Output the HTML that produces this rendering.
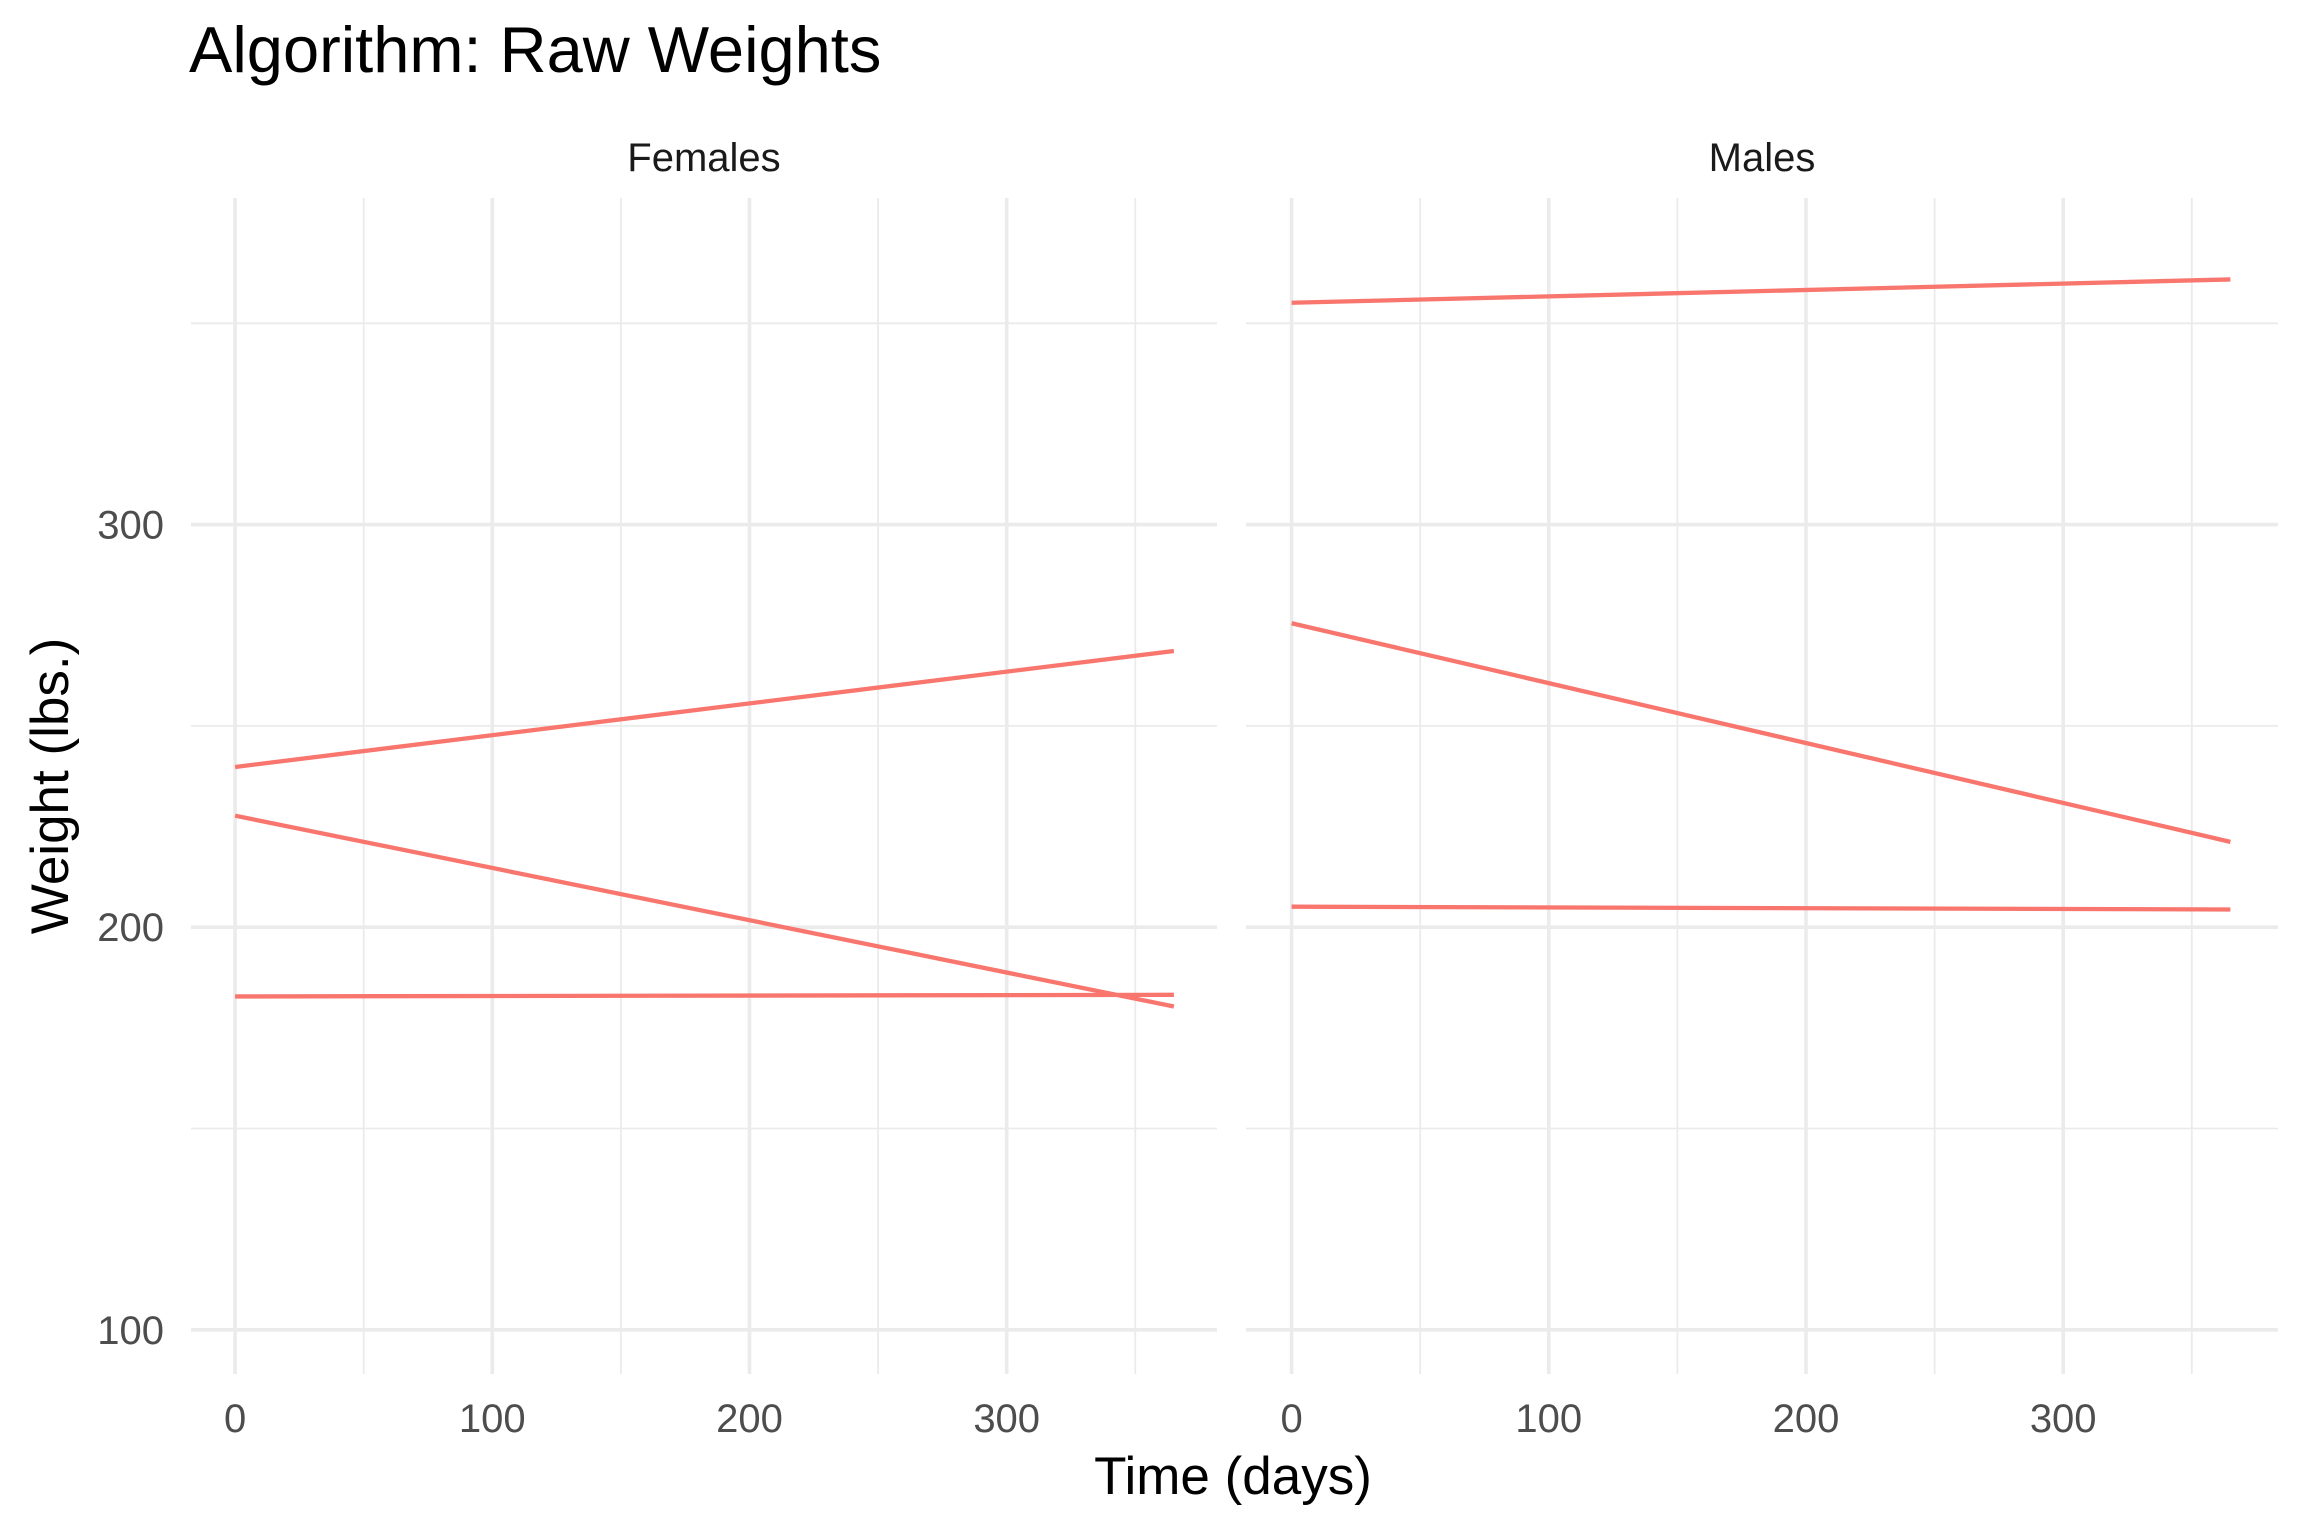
<!DOCTYPE html>
<html><head><meta charset="utf-8"><style>
html,body{margin:0;padding:0;background:#fff;}
svg{display:block;font-family:"Liberation Sans",Arial,sans-serif;}
</style></head><body>
<svg id="chart" width="2304" height="1536" viewBox="0 0 2304 1536">
<text x="189" y="72" font-size="65" fill="#000">Algorithm: Raw Weights</text>
<g id="panels"></g>
<text x="1233" y="1494" font-size="53" text-anchor="middle" fill="#000">Time (days)</text>
<text transform="translate(68,786) rotate(-90)" font-size="53" text-anchor="middle" fill="#000">Weight (lbs.)</text>
</svg>
<script>
const panelNames = ["Females","Males"];
const xTicks = [0,100,200,300];
const xMinor = [50,150,250,350];
const yTicks = [100,200,300];
const yMinor = [150,250,350];
const days = [0,365];
const femaleSeries = [[239.8,268.6],[227.7,180.3],[182.8,183.2]];
const maleSeries = [[355.1,360.9],[275.5,221.2],[205.1,204.4]];

const NS="http://www.w3.org/2000/svg";
const pgRoot=document.getElementById('panels');
const panels=[{left:191,right:1217,x0:235.1},{left:1246,right:2278,x0:1291.6}];
const panelTop=198,panelBottom=1374;
const yScale=v=>524.6+(300-v)*4.026;
function mk(tag,attrs,parent){const e=document.createElementNS(NS,tag);for(const k in attrs)e.setAttribute(k,attrs[k]);(parent||pgRoot).appendChild(e);return e;}
const allSeries=[femaleSeries,maleSeries];
panels.forEach((p,pi)=>{
  const xScale=d=>p.x0+d*2.572;
  const pg=mk('g',{});
  
  
  yMinor.forEach(v=>{const l=mk('line',{x1:p.left,x2:p.right,y1:yScale(v),y2:yScale(v),stroke:'#ebebeb','stroke-width':1.8},pg);
    
    });
  xMinor.forEach(v=>{const l=mk('line',{x1:xScale(v),x2:xScale(v),y1:panelTop,y2:panelBottom,stroke:'#ebebeb','stroke-width':1.8},pg);
    
    });
  yTicks.forEach(v=>{const l=mk('line',{x1:p.left,x2:p.right,y1:yScale(v),y2:yScale(v),stroke:'#ebebeb','stroke-width':3.6},pg);
    
    });
  xTicks.forEach(v=>{const l=mk('line',{x1:xScale(v),x2:xScale(v),y1:panelTop,y2:panelBottom,stroke:'#ebebeb','stroke-width':3.6},pg);
    
    
    const t=mk('text',{x:xScale(v),y:1432,'font-size':40,'text-anchor':'middle',fill:'#4d4d4d'},pg);t.textContent=v;
    
    });
  if(pi===0){yTicks.forEach(v=>{const t=mk('text',{x:164,y:yScale(v)+14,'font-size':40,'text-anchor':'end',fill:'#4d4d4d'},pg);t.textContent=v;
    
    });}
  const s=mk('text',{x:(p.left+p.right)/2,y:171,'font-size':40,'text-anchor':'middle',fill:'#1a1a1a'},pg);s.textContent=panelNames[pi];
  
  
  allSeries[pi].forEach(vals=>{
    const pts=vals.map((v,i)=>xScale(days[i])+','+yScale(v)).join(' ');
    const l=mk('polyline',{points:pts,fill:'none',stroke:'#F8766D','stroke-width':4.3},pg);
    
    
  });
});
</script>
</body></html>
